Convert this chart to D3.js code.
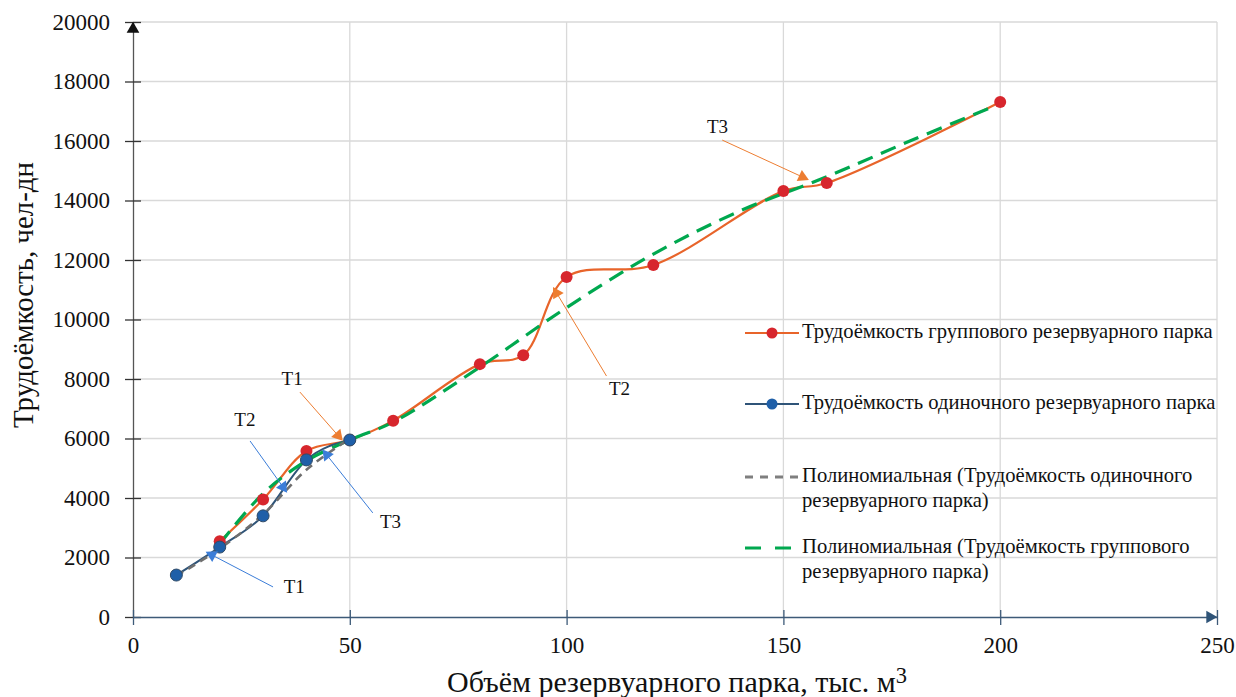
<!DOCTYPE html>
<html>
<head>
<meta charset="utf-8">
<script src="https://cdn.jsdelivr.net/npm/d3@7"></script>
<style>
  body { margin: 0; background: #fff; }
</style>
</head>
<body>
<svg id="chart" width="1236" height="697"></svg>
<script>
// Data
const groupX = [20, 30, 40, 50, 60, 80, 90, 100, 120, 150, 160, 200];
const groupY = [2550, 3950, 5580, 5950, 6600, 8500, 8800, 11430, 11830, 14320, 14590, 17310];

const singleX = [10, 20, 30, 40, 50];
const singleY = [1410, 2350, 3400, 5280, 5950];

// trend lines
const groupTrendX = [20, 30, 40, 50, 60, 80, 100, 120, 140, 160, 180, 200];
const groupTrendY = [2450, 4150, 5250, 5950, 6550, 8400, 10400, 12200, 13650, 14800, 16050, 17250];

const singleTrendX = [10, 20, 30, 40, 50];
const singleTrendY = [1380, 2300, 3450, 4950, 6000];

const xTicks = [0, 50, 100, 150, 200, 250];
const yTicks = d3.range(0, 20001, 2000);

// annotations: label position, line start, arrow tip (data units)
const notes = [
  { t: "T1", lx: 36.7, ly: 7950, sx: 38.5, sy: 7560, ex: 47.3, ey: 6100, c: "#ed7d31" },
  { t: "T2", lx: 112.2, ly: 7600, sx: 109.2, sy: 8100, ex: 97.7, ey: 10890, c: "#ed7d31" },
  { t: "T3", lx: 134.8, ly: 16400, sx: 135.9, sy: 16030, ex: 154.4, ey: 14790, c: "#ed7d31" },
  { t: "T1", lx: 37.2, ly: 950, sx: 32.3, sy: 1010, ex: 18.2, ey: 2085, c: "#3b7dd8" },
  { t: "T2", lx: 25.8, ly: 6550, sx: 27, sy: 5916, ex: 34.6, ey: 4370, c: "#3b7dd8" },
  { t: "T3", lx: 59.4, ly: 3150, sx: 55.3, sy: 3500, ex: 44.7, ey: 5445, c: "#3b7dd8" }
];

const legendItems = [
  { lines: ["Трудоёмкость группового резервуарного парка"], stroke: "#e8642a", marker: "#d7262d", dash: null },
  { lines: ["Трудоёмкость одиночного резервуарного парка"], stroke: "#2f5478", marker: "#1f5fa8", dash: null },
  { lines: ["Полиномиальная (Трудоёмкость одиночного", "резервуарного парка)"], stroke: "#7f7f7f", marker: null, dash: "8,7" },
  { lines: ["Полиномиальная (Трудоёмкость группового", "резервуарного парка)"], stroke: "#00a84f", marker: null, dash: "16,14" }
];

const SERIF = '"Liberation Serif", "Times New Roman", serif';

const svg = d3.select("#chart");
const x = d3.scaleLinear().domain([0, 250]).range([133, 1217]);
const y = d3.scaleLinear().domain([0, 20000]).range([617, 22]);

// scale a text's font size so it spans the given width
function fitText(sel, width) {
  const len = sel.node().getComputedTextLength();
  const fs = parseFloat(sel.style("font-size"));
  sel.style("font-size", (fs * width / len) + "px");
}

// grid
svg.append("g").selectAll("line")
  .data(yTicks.filter(d => d > 0))
  .enter().append("line")
  .attr("x1", x(0)).attr("x2", x(250))
  .attr("y1", d => y(d)).attr("y2", d => y(d))
  .attr("stroke", "#d9d9d9").attr("stroke-width", 1.3);
svg.append("g").selectAll("line")
  .data(xTicks.filter(d => d > 0))
  .enter().append("line")
  .attr("x1", d => x(d)).attr("x2", d => x(d))
  .attr("y1", y(0)).attr("y2", y(20000))
  .attr("stroke", "#d9d9d9").attr("stroke-width", 1.3);

// axes
const yAxis = svg.append("g").attr("transform", `translate(${x(0)},0)`)
  .call(d3.axisLeft(y).tickValues(yTicks).tickFormat(d3.format("d")).tickSize(8).tickSizeOuter(0));
yAxis.attr("font-family", null);
yAxis.select(".domain").attr("stroke", "#555").attr("stroke-width", 1.3);
yAxis.selectAll(".tick line").attr("stroke", "#333").attr("stroke-width", 1.3).attr("x2", 8).attr("x1", -8);
yAxis.selectAll(".tick text").attr("x", -23).attr("fill", "#111")
  .style("font-family", SERIF).style("font-size", "23px");

const xAxis = svg.append("g").attr("transform", `translate(0,${y(0)})`)
  .call(d3.axisBottom(x).tickValues(xTicks).tickSize(8).tickSizeOuter(0));
xAxis.attr("font-family", null);
xAxis.select(".domain").attr("stroke", "#3d5a78").attr("stroke-width", 1.5);
xAxis.selectAll(".tick line").attr("stroke", "#3d5a78").attr("stroke-width", 1.3).attr("y1", -7).attr("y2", 8);
xAxis.selectAll(".tick text").attr("y", 20).attr("fill", "#111")
  .style("font-family", SERIF).style("font-size", "23px");

// axis arrows
svg.append("path")
  .attr("d", d3.symbol().type(d3.symbolTriangle).size(70))
  .attr("transform", `translate(${x(0)},${y(20000) + 7})`)
  .attr("fill", "#111");
svg.append("path")
  .attr("d", d3.symbol().type(d3.symbolTriangle).size(70))
  .attr("transform", `translate(${x(250) - 7},${y(0)}) rotate(90)`)
  .attr("fill", "#2f5478");

// axis titles
const yt = svg.append("text")
  .attr("transform", "translate(33,295) rotate(-90)")
  .attr("text-anchor", "middle")
  .attr("fill", "#111")
  .style("font-family", SERIF).style("font-size", "24px")
  .text("Трудоёмкость, чел-дн");
fitText(yt, 266);

const xt = svg.append("text")
  .attr("x", 447).attr("y", 692)
  .attr("fill", "#111")
  .style("font-family", SERIF).style("font-size", "24px");
xt.append("tspan").text("Объём резервуарного парка, тыс. м");
xt.append("tspan").attr("dy", "-0.4em").style("font-size", "0.75em").text("3");
fitText(xt, 460);

// lines
const smooth = d3.line().curve(d3.curveCatmullRom.alpha(0.5)).x(d => x(d[0])).y(d => y(d[1]));
const straight = d3.line().curve(d3.curveMonotoneX).x(d => x(d[0])).y(d => y(d[1]));

const groupPts = groupX.map((v, i) => [v, groupY[i]]);
const singlePts = singleX.map((v, i) => [v, singleY[i]]);
const groupTrend = groupTrendX.map((v, i) => [v, groupTrendY[i]]);
const singleTrend = singleTrendX.map((v, i) => [v, singleTrendY[i]]);

svg.append("path").attr("d", smooth(groupPts))
  .attr("fill", "none").attr("stroke", "#e8642a").attr("stroke-width", 2.2);
svg.append("path").attr("d", straight(singlePts))
  .attr("fill", "none").attr("stroke", "#2f5478").attr("stroke-width", 2);
svg.append("path").attr("d", smooth(groupTrend))
  .attr("fill", "none").attr("stroke", "#00a84f").attr("stroke-width", 3.2)
  .attr("stroke-dasharray", "16,9");
svg.append("path").attr("d", smooth(singleTrend))
  .attr("fill", "none").attr("stroke", "#6f6f6f").attr("stroke-width", 2.6)
  .attr("stroke-dasharray", "8,6");

// markers
svg.append("g").selectAll("circle").data(groupPts).enter().append("circle")
  .attr("cx", d => x(d[0])).attr("cy", d => y(d[1])).attr("r", 6)
  .attr("fill", "#d7262d");
svg.append("g").selectAll("circle").data(singlePts).enter().append("circle")
  .attr("cx", d => x(d[0])).attr("cy", d => y(d[1])).attr("r", 6)
  .attr("fill", "#1f5fa8").attr("stroke", "#2f4a66").attr("stroke-width", 1);

// annotations
const ng = svg.append("g");
notes.forEach(n => {
  const x1 = x(n.sx), y1 = y(n.sy), x2 = x(n.ex), y2 = y(n.ey);
  const ang = Math.atan2(y2 - y1, x2 - x1) * 180 / Math.PI + 90;
  ng.append("line").attr("x1", x1).attr("y1", y1).attr("x2", x2).attr("y2", y2)
    .attr("stroke", n.c).attr("stroke-width", 1);
  ng.append("path").attr("d", d3.symbol().type(d3.symbolTriangle).size(65))
    .attr("transform", `translate(${x2},${y2}) rotate(${ang})`)
    .attr("fill", n.c);
  ng.append("text").attr("x", x(n.lx)).attr("y", y(n.ly))
    .attr("text-anchor", "middle").attr("dominant-baseline", "middle")
    .attr("fill", "#111")
    .style("font-family", SERIF).style("font-size", "19px")
    .text(n.t);
});

// legend
const lg = svg.append("g").attr("transform", "translate(745,333)");
const legendTexts = [];
legendItems.forEach((it, i) => {
  const g = lg.append("g").attr("transform", `translate(0,${i * 71})`);
  const ly = it.lines.length > 1 ? 2 : 0;
  g.append("line").attr("x1", 0).attr("x2", 54).attr("y1", ly).attr("y2", ly)
    .attr("stroke", it.stroke).attr("stroke-width", it.dash ? 2.8 : 2)
    .attr("stroke-dasharray", it.dash);
  if (it.marker) {
    g.append("circle").attr("cx", 27).attr("cy", ly).attr("r", 5.5).attr("fill", it.marker);
  }
  it.lines.forEach((t, j) => {
    legendTexts.push(g.append("text").attr("x", 57).attr("y", ly + j * 25)
      .attr("dominant-baseline", "middle")
      .attr("fill", "#111")
      .style("font-family", SERIF).style("font-size", "19px")
      .text(t));
  });
});
// all legend entries share the size that makes the first one span 411px
const fs0 = 19 * 411 / legendTexts[0].node().getComputedTextLength();
legendTexts.forEach(t => t.style("font-size", fs0 + "px"));
</script>
</body>
</html>
